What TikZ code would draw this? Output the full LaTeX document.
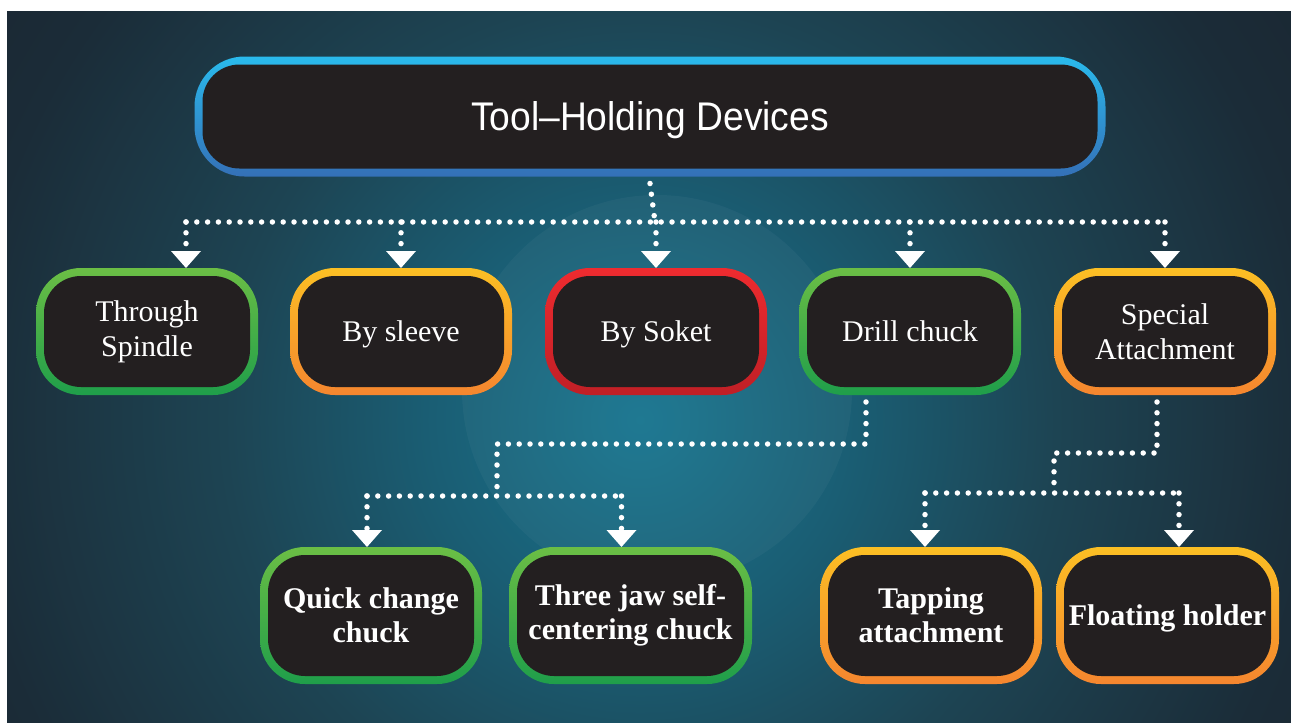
\documentclass[tikz,border=0pt]{standalone}
\usepackage{fontspec}
\setmainfont{Liberation Serif}
\newfontfamily\titlefont[FakeStretch=0.93]{Liberation Sans}
\usetikzlibrary{arrows.meta}
\definecolor{boxfill}{HTML}{231F20}
\definecolor{grnT}{HTML}{6BBE45}
\definecolor{grnB}{HTML}{1F9E4A}
\definecolor{orgT}{HTML}{FBBF24}
\definecolor{orgB}{HTML}{F5862F}
\definecolor{redT}{HTML}{EE2B2F}
\definecolor{redB}{HTML}{C01F26}
\definecolor{bluT}{HTML}{2ABAEC}
\definecolor{bluB}{HTML}{3470B7}
\definecolor{bgA}{HTML}{17758F}
\definecolor{bgB}{HTML}{1A5E74}
\definecolor{bgC}{HTML}{1D4453}
\definecolor{bgD}{HTML}{1B2C38}
\definecolor{bgE}{HTML}{1A2631}
\pgfdeclareradialshading{bgshade}{\pgfpoint{0bp}{0bp}}{color(0bp)=(bgA); color(4bp)=(bgB); color(8bp)=(bgC); color(13bp)=(bgD); color(16bp)=(bgE); color(50bp)=(bgE)}
\tikzset{
  card/.style={rounded corners=45pt, outer sep=0pt, inner sep=0pt, text=white, align=center,
    path picture={\fill[boxfill, rounded corners=37pt]
      ([xshift=8pt,yshift=8pt]path picture bounding box.south west) rectangle
      ([xshift=-8pt,yshift=-8pt]path picture bounding box.north east);}},
  gborder/.style={top color=grnT, bottom color=grnB},
  oborder/.style={top color=orgT, bottom color=orgB},
  rborder/.style={top color=redT, bottom color=redB},
  bborder/.style={top color=bluT, bottom color=bluB},
  rowone/.style={minimum width=222pt, minimum height=127pt, font=\fontsize{30}{35}\selectfont},
  rowtwo/.style={minimum height=137pt, font=\fontsize{30}{34}\selectfont\bfseries},
  oneline/.style={text depth=0pt},
  dotline/.style={white, line width=5.5pt, dash pattern=on 0pt off 10.8pt, line cap=round},
  arr/.style={dotline, -{Triangle[width=30pt,length=17pt,line width=0pt]}}
}
\begin{document}
\begin{tikzpicture}[x=1pt,y=-1pt]
\useasboundingbox (0,0) rectangle (1291,723);
\fill[white] (0,0) rectangle (1291,723);
\begin{scope}
  \clip (7,11) rectangle (1291,723);
  \shade[shading=bgshade] (640,420) circle[radius=1300];
  \fill[white, opacity=0.035] (657,390) circle[radius=195];
\end{scope}

% nodes
\node[card, bborder, rounded corners=50pt, minimum width=911pt, minimum height=120pt,
      font=\titlefont\fontsize{40}{44}\selectfont, text depth=0pt] (top) at (650,116.5) {Tool–Holding Devices};

\node[card, gborder, rowone] (ts) at (147,331.5) {Through\\Spindle};
\node[card, oborder, rowone, oneline] (bs) at (401,331.5) {By sleeve};
\node[card, rborder, rowone, oneline] (bk) at (656,331.5) {By Soket};
\node[card, gborder, rowone, oneline] (dc) at (910,331.5) {Drill chuck};
\node[card, oborder, rowone] (sa) at (1165,331.5) {Special\\Attachment};

\node[card, gborder, rowtwo, minimum width=222pt] (qc) at (371,615.5) {Quick change\\chuck};
\node[card, gborder, rowtwo, minimum width=243pt] (tj) at (630.5,615.5) {Three jaw self-\\centering chuck};
\node[card, oborder, rowtwo, minimum width=222pt] (ta) at (931,615.5) {Tapping\\attachment};
\node[card, oborder, rowtwo, oneline, minimum width=223pt] (fh) at (1167.5,615.5) {Floating holder};

% first level connectors
\coordinate (j0) at (655,222);
\coordinate (hl) at ([xshift=39pt]ts.north |- j0);
\coordinate (hr) at (sa.north |- j0);
\draw[dotline] ([yshift=-7pt]top.south) -- (j0);
\draw[dotline] (hl) -- (hr);
\draw[arr] (hl) -- ([xshift=39pt]ts.north);
\draw[arr] (bs.north |- j0) -- (bs.north);
\draw[arr] (bk.north |- j0) -- (bk.north);
\draw[arr] (dc.north |- j0) -- (dc.north);
\draw[arr] (hr) -- (sa.north);

% drill chuck branch
\coordinate (k1) at (497,444);
\coordinate (k2) at (497,496);
\draw[dotline] ([xshift=-44pt,yshift=-7pt]dc.south) |- (k1) -- (k2);
\draw[dotline] ([xshift=-4pt]qc.north |- k2) -- ([xshift=-9pt]tj.north |- k2);
\draw[arr] ([xshift=-4pt]qc.north |- k2) -- ([xshift=-4pt]qc.north);
\draw[arr] ([xshift=-9pt]tj.north |- k2) -- ([xshift=-9pt]tj.north);

% special attachment branch
\coordinate (m1) at (1054,453);
\coordinate (m2) at (1054,493);
\draw[dotline] ([xshift=-8pt,yshift=-7pt]sa.south) |- (m1) -- (m2);
\draw[dotline] ([xshift=-6pt]ta.north |- m2) -- ([xshift=11.5pt]fh.north |- m2);
\draw[arr] ([xshift=-6pt]ta.north |- m2) -- ([xshift=-6pt]ta.north);
\draw[arr] ([xshift=11.5pt]fh.north |- m2) -- ([xshift=11.5pt]fh.north);
\end{tikzpicture}
\end{document}
